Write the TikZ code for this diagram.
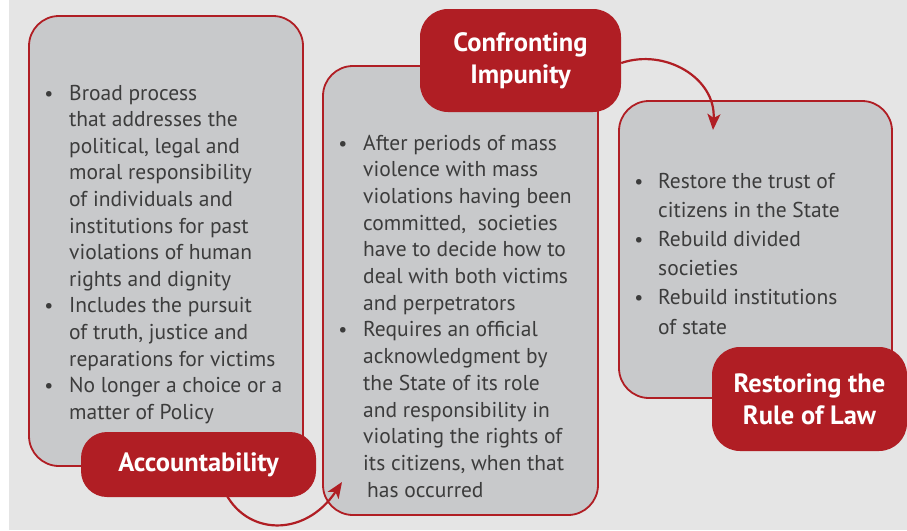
\documentclass[tikz,border=0pt]{standalone}
\usepackage{fontspec}
\setmainfont{PT Sans}
\usetikzlibrary{arrows.meta}
\definecolor{tjred}{RGB}{176,30,36}
\definecolor{boxgray}{RGB}{200,201,203}
\definecolor{bggray}{RGB}{229,229,229}
\definecolor{txtgray}{RGB}{60,60,60}
\begin{document}
\begin{tikzpicture}[x=1pt,y=-1pt,
  infobox/.style={draw=tjred,fill=boxgray,line width=1.8pt,rounded corners=30pt,inner sep=0pt},
  tag/.style={fill=tjred,text=white,rounded corners=26pt,inner sep=0pt,align=center,
    font=\fontsize{26.5}{32}\selectfont\bfseries},
  bodyline/.style={anchor=base west,inner sep=0pt,text=txtgray,font=\fontsize{21.5}{26}\selectfont},
  dot/.style={anchor=base,inner sep=0pt,text=txtgray,font=\fontsize{20}{26}\selectfont},
  flow/.style={draw=tjred,line width=2.2pt,-{Stealth[length=16pt,width=13pt,inset=4pt]}}]
\useasboundingbox (0,0) rectangle (907,530);
\fill[bggray] (9,0) rectangle (907,530);
% boxes
\node[infobox,minimum width=274pt,minimum height=450pt] (box1) at (166,241) {};
\node[infobox,minimum width=275pt,minimum height=449pt] (box2) at (460.5,290.5) {};
\node[infobox,minimum width=273pt,minimum height=297pt] (box3) at (755.5,249.5) {};
% box 1 text
\foreach \t [count=\i from 0] in {Broad process,that addresses the,{political, legal and},moral responsibility,of individuals and,institutions for past,violations of human,rights and dignity,Includes the pursuit,{of truth, justice and},reparations for victims,No longer a choice or a,matter of Policy}
  \node[bodyline] (ba\i) at (69,100+26.6*\i) {\t};
\foreach \k in {0,8,11}
  \node[dot] (bda\k) at (49,100+26.6*\k) {\textbullet};
% box 2 text
\foreach \t [count=\i from 0] in {After periods of mass,violence with mass,violations having been,{committed,\ \ societies},have to decide how to,deal with both victims,and perpetrators,Requires an official,acknowledgment by,the State of its role,and responsibility in,violating the rights of,{its citizens, when that},\hspace{4pt}has occurred}
  \node[bodyline] (bb\i) at (363,150+26.7*\i) {\t};
\foreach \k in {0,7}
  \node[dot] (bdb\k) at (343,150+26.7*\k) {\textbullet};
% box 3 text
\foreach \t [count=\i from 0] in {Restore the trust of,citizens in the State,Rebuild divided,societies,Rebuild institutions,of state}
  \node[bodyline] (bc\i) at (658,188+29.2*\i) {\t};
\foreach \k in {0,2,4}
  \node[dot] (bdc\k) at (639,188+29.2*\k) {\textbullet};
% connectors
\coordinate (a1s) at (224,490);
\coordinate (a1e) at (342,482);
\coordinate (a2e) at (713,130);
\draw[flow] (a1s) .. controls (245,536) and (305,538) .. (a1e);
% labels
\node[tag,minimum width=235pt,minimum height=65pt] (acc) at (198.5,464.5) {Accountability};
\node[tag,minimum width=201pt,minimum height=103pt,rounded corners=28pt] (conf) at (520.5,60.5) {Confronting\\Impunity};
\node[tag,minimum width=195pt,minimum height=104pt,rounded corners=28pt] (rest) at (809.5,399) {Restoring the\\Rule of Law};
\draw[flow] (conf.east |- 0,63) .. controls (665,48) and (716,78) .. (a2e);
\end{tikzpicture}
\end{document}
